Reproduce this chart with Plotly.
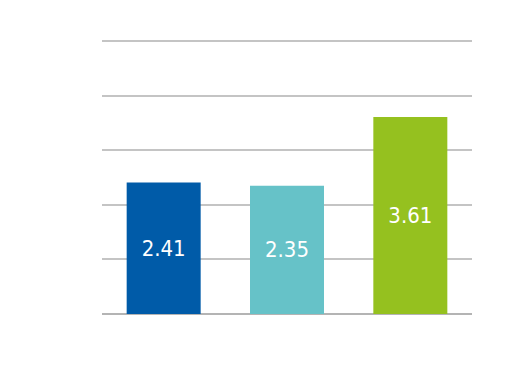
import plotly.graph_objects as go

categories = ["A", "B", "C"]
values = [2.41, 2.35, 3.61]
colors = ["#005BA8", "#66C2C8", "#95C11F"]

fig = go.Figure(go.Bar(
    x=categories, y=values,
    marker=dict(color=colors, line=dict(width=0)),
    text=[f"{v:.2f}" for v in values],
    textposition="inside", insidetextanchor="middle",
    textfont=dict(color="white", size=22,
                  family="Liberation Sans Narrow, DejaVu Sans Condensed, Roboto Condensed, Roboto"),
    textangle=0,
))
fig.update_layout(
    width=522, height=362,
    margin=dict(l=94, r=58, t=30, b=56),
    paper_bgcolor="white", plot_bgcolor="white",
    bargap=0.4, showlegend=False,
)
fig.update_xaxes(showticklabels=False, showgrid=False, showline=False, zeroline=False)
fig.update_yaxes(range=[0, 5.055], tickvals=[1, 2, 3, 4, 5], showticklabels=False, showgrid=True,
                 gridcolor="#c4c4c4", gridwidth=2, zeroline=True,
                 zerolinecolor="#b4b4b4", zerolinewidth=2, showline=False)
fig.write_html("out.html")
